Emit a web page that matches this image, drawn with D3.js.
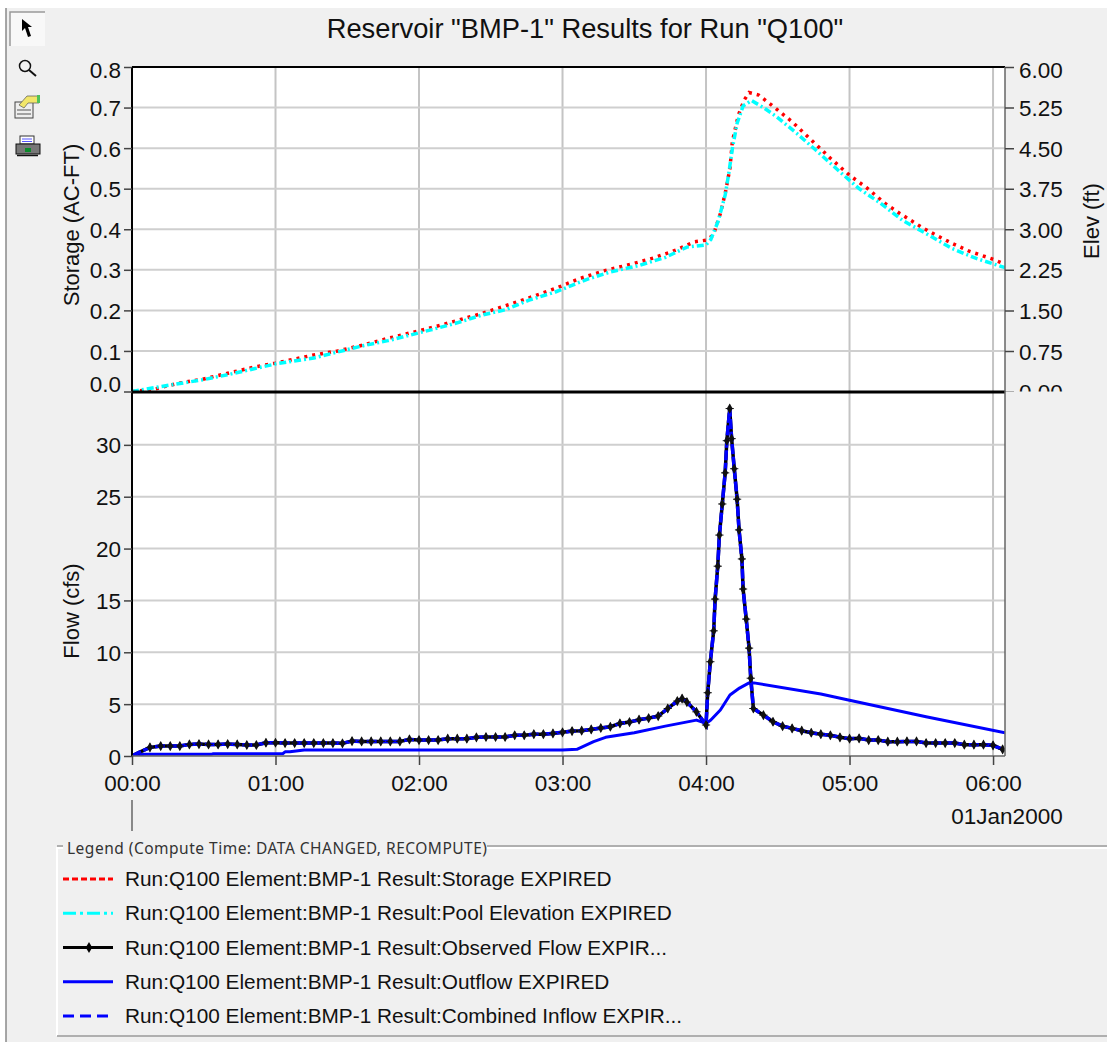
<!DOCTYPE html>
<html>
<head>
<meta charset="utf-8">
<script src="https://cdn.jsdelivr.net/npm/d3@7"></script>
<style>
  html, body { margin: 0; padding: 0; background: #fff; }
  svg { display: block; }
  text { font-family: "Liberation Sans", Arial, sans-serif; fill: #111; }
</style>
</head>
<body>
<div id="chart"></div>
<script>
const width = 1107;
const height = 1042;

const hourTicks = [0, 60, 120, 180, 240, 300, 360];
const storageTicks = [0, 0.1, 0.2, 0.3, 0.4, 0.5, 0.6, 0.7, 0.8];
const elevTicks = [0, 0.75, 1.5, 2.25, 3, 3.75, 4.5, 5.25, 6];
const flowTicks = [0, 5, 10, 15, 20, 25, 30];

const storageTime = [0, 9, 19, 30, 40, 51, 60, 76, 86, 97, 107, 116, 125, 136, 146, 156, 166, 177, 187, 197, 208, 218, 228, 235, 240, 243, 246, 248, 250, 251, 253.5, 256, 258, 262, 267, 276, 284, 292, 300, 307, 315, 321, 331, 337, 343, 350, 359, 365];
const storageValues = [0, 0.005, 0.02, 0.031, 0.045, 0.06, 0.07, 0.09, 0.10, 0.115, 0.131, 0.144, 0.157, 0.175, 0.192, 0.211, 0.231, 0.254, 0.278, 0.297, 0.313, 0.329, 0.35, 0.369, 0.373, 0.385, 0.439, 0.488, 0.55, 0.616, 0.681, 0.719, 0.737, 0.731, 0.708, 0.665, 0.62, 0.575, 0.533, 0.503, 0.463, 0.439, 0.402, 0.383, 0.365, 0.346, 0.328, 0.314];

const elevTime = [0, 9, 30, 40, 51, 60, 76, 86, 97, 107, 116, 125, 136, 146, 156, 166, 177, 190, 200, 212, 223, 232, 240, 242, 245, 248, 249.5, 251, 253, 255.5, 259, 264, 269.5, 278, 286, 296, 304, 313, 322, 334, 343, 353, 365];
const elevValues = [0, 0.07, 0.22, 0.31, 0.42, 0.51, 0.62, 0.73, 0.85, 0.94, 1.04, 1.14, 1.27, 1.41, 1.51, 1.69, 1.84, 2.07, 2.21, 2.33, 2.48, 2.67, 2.71, 2.81, 3.14, 3.63, 4.03, 4.49, 4.96, 5.28, 5.38, 5.25, 5.08, 4.77, 4.46, 4.06, 3.75, 3.48, 3.17, 2.87, 2.64, 2.46, 2.29];

const flowTime = [0, 3, 7.5, 12, 16, 20, 24, 28, 32, 36, 40, 44, 48, 52, 56, 60, 64, 68, 72, 76, 80, 84, 88, 92, 96, 100, 104, 108, 112, 116, 120, 124, 128, 132, 136, 140, 144, 148, 152, 156, 160, 164, 168, 172, 176, 180, 184, 188, 192, 196, 200, 204, 208, 212, 216, 220, 224, 228, 230, 232, 236, 240, 240.7, 241.8, 243.2, 243.8, 244.9, 245.6, 246.8, 248, 248.7, 249.9, 250.7, 251.8, 253, 253.8, 255, 255.5, 256.8, 258, 258.7, 259.8, 264, 268, 272, 276, 280, 284, 288, 292, 296, 300, 304, 308, 312, 316, 320, 324, 328, 332, 336, 340, 344, 348, 352, 356, 360, 364, 365];
const flowValues = [0, 0.35, 0.83, 0.96, 0.96, 0.96, 1.12, 1.15, 1.12, 1.12, 1.15, 1.12, 1.06, 1.06, 1.28, 1.28, 1.25, 1.25, 1.25, 1.25, 1.25, 1.25, 1.22, 1.44, 1.41, 1.41, 1.41, 1.41, 1.41, 1.6, 1.54, 1.54, 1.54, 1.67, 1.67, 1.67, 1.8, 1.83, 1.83, 1.83, 2.0, 2.0, 2.1, 2.1, 2.18, 2.28, 2.4, 2.44, 2.56, 2.7, 2.82, 3.14, 3.27, 3.5, 3.65, 3.85, 4.58, 5.3, 5.54, 5.2, 4.26, 2.99, 6.1, 9.09, 12.07, 15.13, 18.3, 21.3, 24.3, 27.3, 30.4, 33.5, 30.6, 27.7, 24.76, 21.8, 19.0, 16.1, 13.2, 10.4, 7.5, 4.58, 3.94, 3.3, 2.88, 2.66, 2.44, 2.24, 2.1, 2.0, 1.8, 1.67, 1.7, 1.54, 1.54, 1.38, 1.38, 1.41, 1.41, 1.25, 1.25, 1.25, 1.25, 1.09, 1.09, 1.09, 1.03, 0.64, 0.6];

const outflowTime = [0, 5, 33, 34, 63, 64, 66, 72, 180, 186, 193, 198, 210, 223, 236, 240, 242, 246, 250, 254, 258, 260, 288, 300, 332, 365];
const outflowValues = [0, 0.16, 0.16, 0.22, 0.22, 0.4, 0.4, 0.58, 0.58, 0.64, 1.38, 1.8, 2.24, 2.88, 3.46, 3.14, 3.47, 4.43, 5.88, 6.55, 7.05, 7.05, 5.97, 5.38, 3.78, 2.24];

const legendLabels = [
  "Run:Q100 Element:BMP-1 Result:Storage EXPIRED",
  "Run:Q100 Element:BMP-1 Result:Pool Elevation EXPIRED",
  "Run:Q100 Element:BMP-1 Result:Observed Flow EXPIR...",
  "Run:Q100 Element:BMP-1 Result:Outflow EXPIRED",
  "Run:Q100 Element:BMP-1 Result:Combined Inflow EXPIR..."
];
const legendColors = ["#ff0000", "#00ffff", "#000000", "#0000ff", "#0000ff"];
const legendDashes = ["6 3", "13 4 3 4", null, null, "11 6"];

const svg = d3.select("#chart").append("svg")
  .attr("width", width)
  .attr("height", height)
  .attr("viewBox", `0 0 ${width} ${height}`);

// window background
svg.append("rect").attr("x", 6).attr("y", 8).attr("width", width - 6).attr("height", height - 8).attr("fill", "#f0f0f0");
svg.append("line").attr("x1", 6).attr("x2", 6).attr("y1", 8).attr("y2", height).attr("stroke", "#8a8a8a").attr("stroke-width", 1.5);

const left = 132, right = 1005, topY = 67, splitY = 391.5, flowTop = 393, flowBottom = 756;

const x = d3.scaleLinear().domain([0, 365]).range([left, right]);
const yStorage = d3.scaleLinear().domain([0, 0.8]).range([splitY, topY]);
const yElev = d3.scaleLinear().domain([0, 6]).range([splitY, topY]);
const yFlow = d3.scaleLinear().domain([0, 35]).range([flowBottom, flowTop]);

svg.append("rect").attr("x", left).attr("y", topY).attr("width", right - left).attr("height", flowBottom - topY).attr("fill", "#fff");

// gridlines
const grid = svg.append("g").attr("fill", "none");
grid.selectAll(".gx").data(hourTicks).enter().append("line")
  .attr("x1", d => x(d)).attr("x2", d => x(d))
  .attr("y1", topY).attr("y2", flowBottom)
  .attr("stroke", "#c4c4c4").attr("stroke-width", 2);
grid.selectAll(".gs").data(storageTicks.slice(1, -1)).enter().append("line")
  .attr("x1", left).attr("x2", right)
  .attr("y1", d => yStorage(d)).attr("y2", d => yStorage(d))
  .attr("stroke", "#cfcfcf").attr("stroke-width", 2);
grid.selectAll(".gf").data(flowTicks.slice(1)).enter().append("line")
  .attr("x1", left).attr("x2", right)
  .attr("y1", d => yFlow(d)).attr("y2", d => yFlow(d))
  .attr("stroke", "#cfcfcf").attr("stroke-width", 2);

const pairs = (t, v) => t.map((d, i) => [d, v[i]]);
const lineOn = y => d3.line().x(d => x(d[0])).y(d => y(d[1]));

svg.append("clipPath").attr("id", "plotClip").append("rect")
  .attr("x", left).attr("y", topY).attr("width", right - left).attr("height", flowBottom - topY);
// applied to a translated group, so x is local to the right axis
svg.append("clipPath").attr("id", "elevClip").append("rect")
  .attr("x", 0).attr("y", 40).attr("width", 102).attr("height", splitY - 40);

const marks = svg.append("g").attr("clip-path", "url(#plotClip)").attr("fill", "none");

const flowData = pairs(flowTime, flowValues);

marks.append("path").attr("d", lineOn(yFlow)(pairs(outflowTime, outflowValues)))
  .attr("stroke", "#0000ff").attr("stroke-width", 3).attr("stroke-linejoin", "round");
marks.append("path").attr("d", lineOn(yFlow)(flowData))
  .attr("stroke", "#000").attr("stroke-width", 3.5);
marks.append("path").attr("d", lineOn(yFlow)(flowData))
  .attr("stroke", "#0000ff").attr("stroke-width", 3.5).attr("stroke-dasharray", "10 2.5");

const diamond = d3.symbol().type(d3.symbolDiamond).size(30);
const plus = d3.symbol().type(d3.symbolPlus).size(24);
marks.selectAll(".obs").data(flowData.slice(2, -1)).enter().append("g")
  .attr("transform", d => `translate(${x(d[0])},${yFlow(d[1])})`)
  .each(function () {
    d3.select(this).append("path").attr("d", diamond()).attr("fill", "#111");
    d3.select(this).append("path").attr("d", plus()).attr("fill", "none").attr("stroke", "#111").attr("stroke-width", 1);
  });

marks.append("path").attr("d", lineOn(yStorage)(pairs(storageTime, storageValues)))
  .attr("stroke", "#ff0000").attr("stroke-width", 3.5).attr("stroke-dasharray", "3 5");
marks.append("path").attr("d", lineOn(yElev)(pairs(elevTime, elevValues)))
  .attr("stroke", "#00ffff").attr("stroke-width", 3.5).attr("stroke-dasharray", "7 3 2 3");

// frame
svg.append("line").attr("x1", left).attr("x2", right).attr("y1", topY).attr("y2", topY).attr("stroke", "#000").attr("stroke-width", 2);
svg.append("line").attr("x1", left).attr("x2", right).attr("y1", splitY + 0.5).attr("y2", splitY + 0.5).attr("stroke", "#000").attr("stroke-width", 3);
svg.append("line").attr("x1", left).attr("x2", left).attr("y1", topY).attr("y2", flowBottom).attr("stroke", "#000").attr("stroke-width", 2);
svg.append("line").attr("x1", right).attr("x2", right).attr("y1", topY).attr("y2", flowBottom).attr("stroke", "#666").attr("stroke-width", 1.5);
svg.append("line").attr("x1", left).attr("x2", right).attr("y1", flowBottom).attr("y2", flowBottom).attr("stroke", "#666").attr("stroke-width", 1.5);

// axes
const styleAxis = g => {
  g.select(".domain").remove();
  g.selectAll(".tick line").attr("stroke", "#444").attr("stroke-width", 1.5);
  g.selectAll(".tick text").style("font-family", '"Liberation Sans", Arial, sans-serif').style("font-size", "22.5px").attr("fill", "#111");
};
const centerY = g => g.selectAll(".tick text").attr("dy", "0.36em");

const storageAxis = svg.append("g").attr("transform", `translate(${left},0)`)
  .call(d3.axisLeft(yStorage).tickValues(storageTicks).tickFormat(d3.format(".1f")).tickSize(8).tickPadding(3))
  .call(styleAxis).call(centerY);
// the 0.0 label sits raised above the split line, the 0.8 one a little below the top
storageAxis.selectAll(".tick text").filter(d => d === 0).attr("y", -8);
storageAxis.selectAll(".tick text").filter(d => d === 0.8).attr("y", 2);

const elevAxis = svg.append("g").attr("transform", `translate(${right},0)`).attr("clip-path", "url(#elevClip)")
  .call(d3.axisRight(yElev).tickValues(elevTicks).tickFormat(d3.format(".2f")).tickSize(9).tickPadding(5))
  .call(styleAxis).call(centerY);
elevAxis.selectAll(".tick text").filter(d => d === 6).attr("y", 2);

svg.append("g").attr("transform", `translate(${left},0)`)
  .call(d3.axisLeft(yFlow).tickValues(flowTicks).tickSize(8).tickPadding(3))
  .call(styleAxis).call(centerY);

const hhmm = d => d3.format("02d")(d / 60) + ":00";
svg.append("g").attr("transform", `translate(0,${flowBottom})`)
  .call(d3.axisBottom(x).tickValues(hourTicks).tickFormat(hhmm).tickSize(9).tickPadding(10))
  .call(styleAxis);

svg.append("line").attr("x1", left).attr("x2", left).attr("y1", 800).attr("y2", 831).attr("stroke", "#444").attr("stroke-width", 1.2);

svg.append("text").attr("x", 1007).attr("y", 824).attr("text-anchor", "middle").style("font-size", "22.5px").text("01Jan2000");

// titles
svg.append("text").attr("x", 585).attr("y", 38).attr("text-anchor", "middle").style("font-size", "27.3px").text('Reservoir "BMP-1" Results for Run "Q100"');
svg.append("text").attr("transform", "translate(79,225) rotate(-90)").attr("text-anchor", "middle").style("font-size", "22px").text("Storage (AC-FT)");
svg.append("text").attr("transform", "translate(1099,221) rotate(-90)").attr("text-anchor", "middle").style("font-size", "22px").text("Elev (ft)");
svg.append("text").attr("transform", "translate(79,611) rotate(-90)").attr("text-anchor", "middle").style("font-size", "22px").text("Flow (cfs)");

// legend box
const legend = svg.append("g");
legend.append("path").attr("d", `M57 1036V848H63M487 848H${width}`).attr("fill", "none").attr("stroke", "#fff").attr("stroke-width", 2);
legend.append("path").attr("d", `M57 846H63M487 846H${width}M57 1036H${width}`).attr("fill", "none").attr("stroke", "#999").attr("stroke-width", 1.5);
legend.append("text").attr("x", 67).attr("y", 854)
  .style("font-family", '"Noto Sans", "DejaVu Sans", sans-serif').style("font-size", "15.5px").attr("textLength", 420)
  .style("fill", "#333").text("Legend (Compute Time: DATA CHANGED, RECOMPUTE)");

const legendRow = d3.scalePoint().domain(d3.range(legendLabels.length)).range([879, 1016]);
const rows = legend.selectAll(".row").data(legendLabels).enter().append("g")
  .attr("transform", (d, i) => `translate(0,${legendRow(i)})`);
rows.append("line").attr("x1", 63).attr("x2", 113)
  .attr("stroke", (d, i) => legendColors[i]).attr("stroke-width", 3)
  .attr("stroke-dasharray", (d, i) => legendDashes[i]);
rows.filter((d, i) => i === 2).append("path").attr("transform", "translate(89,0)").attr("d", d3.symbol().type(d3.symbolDiamond).size(36)()).attr("fill", "#000");
rows.append("text").attr("x", 125).attr("y", 7).style("font-size", "20.8px").text(d => d);

// toolbar icons
const tools = svg.append("g");
tools.append("rect").attr("x", 10).attr("y", 12).attr("width", 35).attr("height", 34).attr("fill", "#f8f8f8");
tools.append("path").attr("d", "M10 46V12H45").attr("fill", "none").attr("stroke", "#999").attr("stroke-width", 1.5);
tools.append("path").attr("d", "M22 19L22 31L25 28L28 37L31 36L28 27L32 27Z").attr("fill", "#000");
tools.append("circle").attr("cx", 25).attr("cy", 66).attr("r", 5.5).attr("fill", "none").attr("stroke", "#111").attr("stroke-width", 1.5);
tools.append("line").attr("x1", 29).attr("y1", 70).attr("x2", 36).attr("y2", 76).attr("stroke", "#111").attr("stroke-width", 2);
tools.append("rect").attr("x", 15).attr("y", 102).attr("width", 18).attr("height", 16).attr("fill", "#eee").attr("stroke", "#444");
tools.append("path").attr("d", "M19 105L27 96H39V103H28L24 108Z").attr("fill", "#f2e66a").attr("stroke", "#555").attr("stroke-width", 0.7);
tools.append("rect").attr("x", 37).attr("y", 95).attr("width", 3).attr("height", 8).attr("fill", "#4fc25a");
tools.append("path").attr("d", "M17 110H31M17 114H31").attr("stroke", "#555").attr("stroke-width", 1);
tools.append("rect").attr("x", 20).attr("y", 136).attr("width", 14).attr("height", 8).attr("fill", "#fff").attr("stroke", "#333");
tools.append("path").attr("d", "M22 139H32M22 141.5H32").attr("stroke", "#55f").attr("stroke-width", 1);
tools.append("rect").attr("x", 16).attr("y", 144).attr("width", 24).attr("height", 10).attr("fill", "#777").attr("stroke", "#111");
tools.append("rect").attr("x", 25).attr("y", 148).attr("width", 6).attr("height", 4).attr("fill", "#0a8a2a");
tools.append("path").attr("d", "M17 155.5H38").attr("stroke", "#111").attr("stroke-width", 1.5);
</script>
</body>
</html>
